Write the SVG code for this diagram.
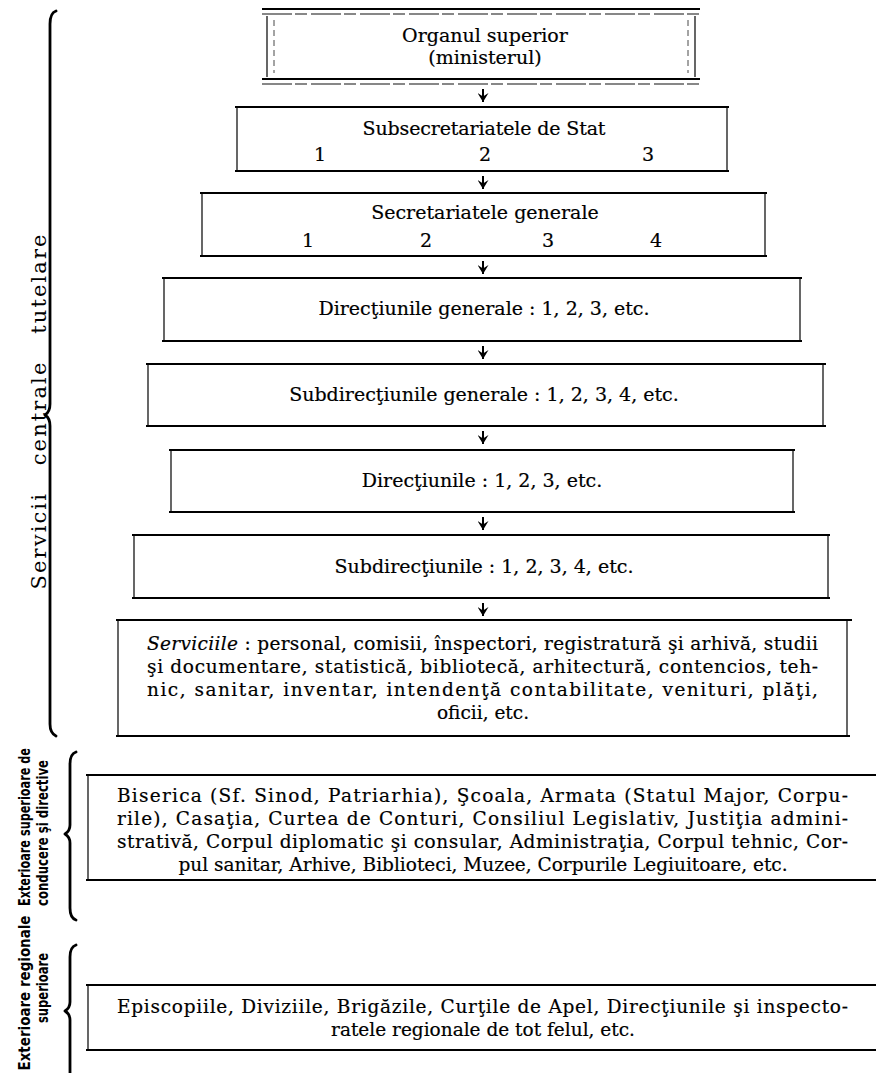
<svg xmlns="http://www.w3.org/2000/svg" width="876" height="1073" viewBox="0 0 876 1073">
<style>
.t{font-family:'DejaVu Serif','Liberation Serif',serif;font-size:19px;fill:#000;stroke:#000;stroke-width:0.2;}
.p{font-family:'DejaVu Serif','Liberation Serif',serif;font-size:18.5px;fill:#000;stroke:#000;stroke-width:0.2;}
.side{font-family:'DejaVu Serif','Liberation Serif',serif;font-size:21px;fill:#000;word-spacing:18px;}
.lbl{font-family:'DejaVu Sans Condensed','DejaVu Sans',sans-serif;font-stretch:condensed;font-weight:bold;font-size:15px;fill:#000;}
.h{stroke:#000;stroke-width:1.8;fill:none;}
.h2{stroke:#111;stroke-width:1.2;fill:none;stroke-dasharray:30 3 12 4;}
.v{stroke:#000;stroke-width:1.2;fill:none;}
.vd{stroke:#333;stroke-width:0.9;fill:none;stroke-dasharray:6 4;}
.br{stroke:#000;stroke-width:2.8;fill:none;stroke-linecap:round;stroke-linejoin:round;}
.c{stroke:#000;stroke-width:2;fill:none;}
</style>
<defs>
<marker id="ah" viewBox="0 0 9 11" refX="9" refY="5.5" markerWidth="9" markerHeight="11" markerUnits="userSpaceOnUse" orient="auto">
<path d="M0,0 L9,5.5 L0,11 L3.5,5.5 Z" fill="#000"/>
</marker>
</defs>

<g id="brace-central">
<path class="br" d="M56 11 Q50 13 50 24 L50 404 Q50 412 45 415 Q50 418 50 426 L50 724 Q50 733 56 736"/>
<text class="side" text-anchor="middle" textLength="355" lengthAdjust="spacing" transform="translate(46,412) rotate(-90)">Servicii centrale tutelare</text>
</g>

<g id="brace-exterioare-superioare">
<path class="br" d="M76 752 Q70 754 70 764 L70 825 Q70 831 65 834 Q70 837 70 843 L70 908 Q70 918 76 920"/>
<text class="lbl" text-anchor="middle" textLength="158" lengthAdjust="spacingAndGlyphs" transform="translate(30,827) rotate(-90)">Exterioare superioare de</text>
<text class="lbl" text-anchor="middle" textLength="146" lengthAdjust="spacingAndGlyphs" transform="translate(48,833) rotate(-90)">conducere şi directive</text>
</g>

<g id="brace-exterioare-regionale">
<path class="br" d="M76 945 Q70 947 70 957 L70 1002 Q70 1008 65 1011 Q70 1014 70 1020 L70 1080"/>
<text class="lbl" text-anchor="middle" textLength="155" lengthAdjust="spacingAndGlyphs" transform="translate(30,993) rotate(-90)">Exterioare regionale</text>
<text class="lbl" text-anchor="middle" textLength="70" lengthAdjust="spacingAndGlyphs" transform="translate(48,988) rotate(-90)">superioare</text>
</g>

<g id="n1-organul-superior">
<line class="h" x1="262" y1="9" x2="700" y2="9"/>
<line class="h2" x1="262" y1="14" x2="700" y2="14"/>
<line class="v" x1="267" y1="16" x2="267" y2="77"/>
<line class="vd" x1="274" y1="20" x2="274" y2="73"/>
<line class="vd" x1="688" y1="20" x2="688" y2="73"/>
<line class="v" x1="695" y1="16" x2="695" y2="77"/>
<line class="h" x1="262" y1="79" x2="700" y2="79"/>
<line class="h2" x1="262" y1="84" x2="700" y2="84"/>
<text class="t" x="485" y="42" text-anchor="middle">Organul superior</text>
<text class="t" x="485" y="64" text-anchor="middle">(ministerul)</text>
</g>

<g id="n2-subsecretariate">
<line class="h" x1="235" y1="107" x2="729" y2="107"/>
<line class="v" x1="237" y1="108" x2="237" y2="170"/>
<line class="v" x1="727" y1="108" x2="727" y2="170"/>
<line class="h" x1="235" y1="171" x2="729" y2="171"/>
<text class="t" x="484" y="135" text-anchor="middle" textLength="243" lengthAdjust="spacing">Subsecretariatele de Stat</text>
<text class="t" x="320" y="161" text-anchor="middle">1</text>
<text class="t" x="485" y="161" text-anchor="middle">2</text>
<text class="t" x="648" y="161" text-anchor="middle">3</text>
</g>

<g id="n3-secretariate">
<line class="h" x1="200" y1="193" x2="767" y2="193"/>
<line class="v" x1="202" y1="194" x2="202" y2="255"/>
<line class="v" x1="765" y1="194" x2="765" y2="255"/>
<line class="h" x1="200" y1="256" x2="767" y2="256"/>
<text class="t" x="485" y="219" text-anchor="middle">Secretariatele generale</text>
<text class="t" x="308" y="247" text-anchor="middle">1</text>
<text class="t" x="426" y="247" text-anchor="middle">2</text>
<text class="t" x="548" y="247" text-anchor="middle">3</text>
<text class="t" x="656" y="247" text-anchor="middle">4</text>
</g>

<g id="n4-directiuni-generale">
<line class="h" x1="162" y1="278" x2="802" y2="278"/>
<line class="v" x1="164" y1="279" x2="164" y2="340"/>
<line class="v" x1="800" y1="279" x2="800" y2="340"/>
<line class="h" x1="162" y1="341" x2="802" y2="341"/>
<text class="t" x="484" y="315" text-anchor="middle">Direcţiunile generale : 1, 2, 3, etc.</text>
</g>

<g id="n5-subdirectiuni-generale">
<line class="h" x1="146" y1="364" x2="826" y2="364"/>
<line class="v" x1="148" y1="365" x2="148" y2="425"/>
<line class="v" x1="823" y1="365" x2="823" y2="425"/>
<line class="h" x1="146" y1="426" x2="826" y2="426"/>
<text class="t" x="484" y="401" text-anchor="middle">Subdirecţiunile generale : 1, 2, 3, 4, etc.</text>
</g>

<g id="n6-directiuni">
<line class="h" x1="169" y1="450" x2="795" y2="450"/>
<line class="v" x1="171" y1="451" x2="171" y2="511"/>
<line class="v" x1="793" y1="451" x2="793" y2="511"/>
<line class="h" x1="169" y1="512" x2="795" y2="512"/>
<text class="t" x="482" y="487" text-anchor="middle">Direcţiunile : 1, 2, 3, etc.</text>
</g>

<g id="n7-subdirectiuni">
<line class="h" x1="132" y1="535" x2="830" y2="535"/>
<line class="v" x1="134" y1="536" x2="134" y2="597"/>
<line class="v" x1="828" y1="536" x2="828" y2="597"/>
<line class="h" x1="132" y1="598" x2="830" y2="598"/>
<text class="t" x="484" y="573" text-anchor="middle">Subdirecţiunile : 1, 2, 3, 4, etc.</text>
</g>

<g id="n8-serviciile">
<line class="h" x1="116" y1="620" x2="852" y2="620"/>
<line class="v" x1="118" y1="621" x2="118" y2="735"/>
<line class="v" x1="847" y1="621" x2="847" y2="735"/>
<line class="h" x1="116" y1="736" x2="850" y2="736"/>
<text class="p" x="147" y="650" textLength="671" lengthAdjust="spacing"><tspan font-style="italic">Serviciile</tspan> : personal, comisii, înspectori, registratură şi arhivă, studii</text>
<text class="p" x="147" y="673" textLength="671" lengthAdjust="spacing">şi documentare, statistică, bibliotecă, arhitectură, contencios, teh-</text>
<text class="p" x="147" y="696" textLength="671" lengthAdjust="spacing">nic, sanitar, inventar, intendenţă contabilitate, venituri, plăţi,</text>
<text class="p" x="483" y="719" text-anchor="middle">oficii, etc.</text>
</g>

<g id="n9-exterioare-superioare">
<line class="h" x1="86" y1="775" x2="876" y2="775"/>
<line class="v" x1="88" y1="776" x2="88" y2="879"/>
<line class="h" x1="86" y1="880" x2="876" y2="880"/>
<text class="p" x="117" y="802" textLength="731" lengthAdjust="spacing">Biserica (Sf. Sinod, Patriarhia), Şcoala, Armata (Statul Major, Corpu-</text>
<text class="p" x="117" y="825" textLength="731" lengthAdjust="spacing">rile), Casaţia, Curtea de Conturi, Consiliul Legislativ, Justiţia admini-</text>
<text class="p" x="117" y="848" textLength="731" lengthAdjust="spacing">strativă, Corpul diplomatic şi consular, Administraţia, Corpul tehnic, Cor-</text>
<text class="p" x="483" y="871" text-anchor="middle">pul sanitar, Arhive, Biblioteci, Muzee, Corpurile Legiuitoare, etc.</text>
</g>

<g id="n10-exterioare-regionale">
<line class="h" x1="86" y1="985" x2="876" y2="985"/>
<line class="v" x1="88" y1="986" x2="88" y2="1049"/>
<line class="h" x1="86" y1="1050" x2="876" y2="1050"/>
<text class="p" x="117" y="1013" textLength="731" lengthAdjust="spacing">Episcopiile, Diviziile, Brigăzile, Curţile de Apel, Direcţiunile şi inspecto-</text>
<text class="p" x="483" y="1036" text-anchor="middle">ratele regionale de tot felul, etc.</text>
</g>

<g id="connectors">
<path class="c" d="M483 89 V102" marker-end="url(#ah)"/>
<path class="c" d="M483 176 V189" marker-end="url(#ah)"/>
<path class="c" d="M483 261 V274" marker-end="url(#ah)"/>
<path class="c" d="M483 346 V359" marker-end="url(#ah)"/>
<path class="c" d="M483 431 V444" marker-end="url(#ah)"/>
<path class="c" d="M483 517 V530" marker-end="url(#ah)"/>
<path class="c" d="M483 603 V616" marker-end="url(#ah)"/>
</g>
</svg>
